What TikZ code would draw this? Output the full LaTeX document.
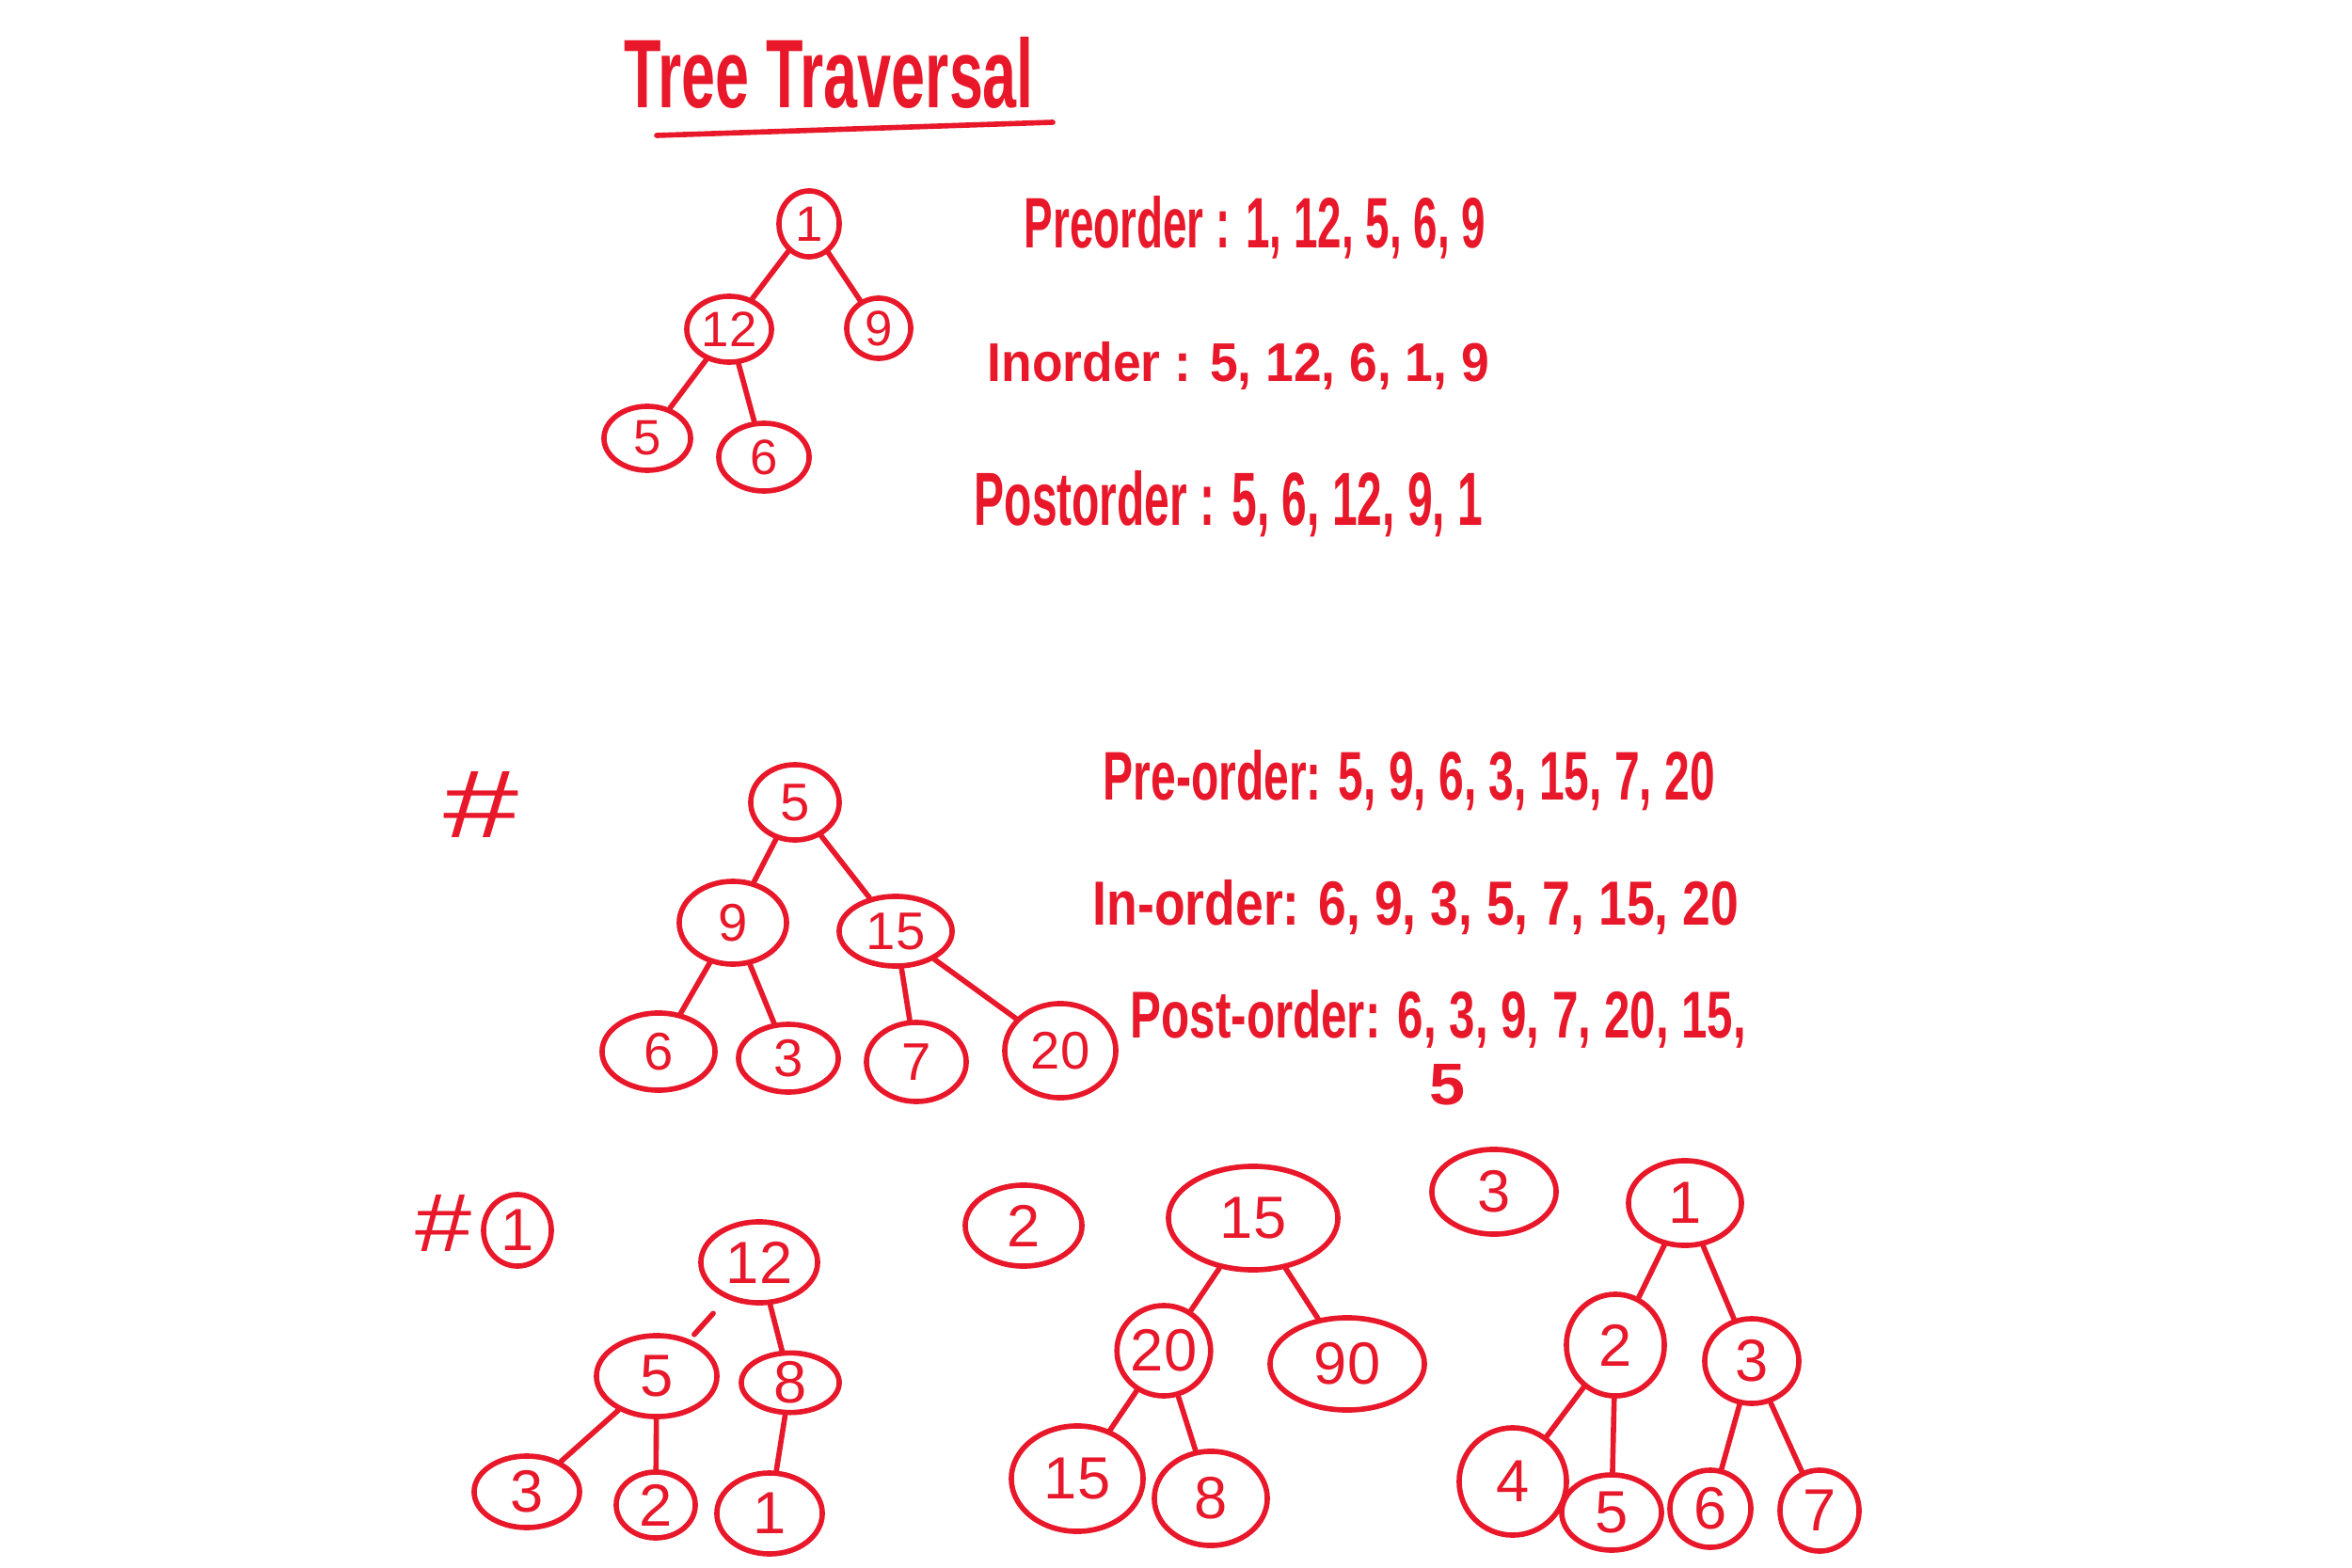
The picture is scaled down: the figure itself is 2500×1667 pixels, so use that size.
\documentclass[tikz,border=0pt]{standalone}
\usepackage{fontspec}
\setmainfont{Liberation Sans}
\usepackage{graphicx}
\usetikzlibrary{shapes.geometric}
\definecolor{ink}{RGB}{232,24,42}
\newcommand{\fitbox}[3]{\resizebox{#1cm}{#2cm}{#3}}
\begin{document}
\begin{tikzpicture}[x=0.01cm,y=-0.01cm,
  nd/.style n args={2}{draw=ink, ellipse, inner sep=0pt, line width=1.6pt,
     minimum width={#1*0.02cm}, minimum height={#2*0.02cm}, text=ink},
  fa/.style={font=\fontsize{15}{17}\selectfont},
  fb/.style={font=\fontsize{16}{18}\selectfont},
  fc/.style={font=\fontsize{18}{20}\selectfont},
  link/.style={draw=ink, line width=1.6pt, line cap=round},
  txt/.style={text=ink, inner sep=0pt, anchor=base west, font=\bfseries}]
\fill[white] (0,0) rectangle (2500,1667);
\useasboundingbox (0,0) rectangle (2500,1667);

% title
\node[txt] (title) at (663,115) {\fitbox{4.35}{0.75}{Tree Traversal}};
\coordinate (ul1) at (698,144);
\coordinate (ul2) at (1119,130);
\draw[link] (ul1) -- (ul2);

% tree 1
\node[nd={32}{35},fa] (a1) at (860,238) {1};
\node[nd={45}{35},fa] (a12) at (775,350) {12};
\node[nd={34}{32},fa] (a9) at (934,349) {9};
\node[nd={46}{34},fa] (a5) at (688,466) {5};
\node[nd={48}{36},fa] (a6) at (812,486) {6};
\draw[link] (a1) -- (a12);
\draw[link] (a1) -- (a9);
\draw[link] (a12) -- (a5);
\draw[link] (a12) -- (a6);

\node[txt] (pre1) at (1088,264) {\fitbox{4.9}{0.55}{Preorder : 1, 12, 5, 6, 9}};
\node[txt] (in1) at (1049,406) {\fitbox{5.33}{0.42}{Inorder : 5, 12, 6, 1, 9}};
\node[txt] (post1) at (1035,559) {\fitbox{5.4}{0.58}{Postorder : 5, 6, 12, 9, 1}};

% tree 2
\node[text=ink, inner sep=0pt] (hash1) at (512,855) {\fitbox{0.8}{0.7}{\#}};
\node[nd={47}{40},fb] (b5) at (845,853) {5};
\node[nd={57}{44},fb] (b9) at (779,981) {9};
\node[nd={60}{37},fb] (b15) at (952,990) {15};
\node[nd={60}{41},fb] (b6) at (700,1118) {6};
\node[nd={53}{36},fb] (b3) at (838,1125) {3};
\node[nd={53}{42},fb] (b7) at (974,1129) {7};
\node[nd={59}{50},fb] (b20) at (1127,1117) {20};
\draw[link] (b5) -- (b9);
\draw[link] (b5) -- (b15);
\draw[link] (b9) -- (b6);
\draw[link] (b9) -- (b3);
\draw[link] (b15) -- (b7);
\draw[link] (b15) -- (b20);

\node[txt] (pre2) at (1172,850) {\fitbox{6.5}{0.53}{Pre-order: 5, 9, 6, 3, 15, 7, 20}};
\node[txt] (in2) at (1161,983) {\fitbox{6.86}{0.48}{In-order: 6, 9, 3, 5, 7, 15, 20}};
\node[txt] (post2) at (1201,1103) {\fitbox{6.54}{0.51}{Post-order: 6, 3, 9, 7, 20, 15,}};
\node[text=ink, inner sep=0pt, font=\bfseries] (post2b) at (1538,1153) {\fitbox{0.38}{0.43}{5}};

% bottom: tree 1
\node[text=ink, inner sep=0pt] (hash2) at (472,1300) {\fitbox{0.6}{0.6}{\#}};
\node[nd={36}{38},fc] (l1) at (550,1308) {1};
\node[nd={62}{43},fc] (c12) at (807,1342) {12};
\node[nd={64}{43},fc] (c5) at (698,1463) {5};
\node[nd={52}{30},fc] (c8) at (840,1470) {8};
\node[nd={56}{38},fc] (c3) at (560,1586) {3};
\node[nd={42}{35},fc] (c2) at (697,1600) {2};
\node[nd={56}{43},fc] (c1) at (818,1609) {1};
\draw[link, shorten <=6pt, shorten >=2pt] (c12) -- (c5);
\draw[link] (c12) -- (c8);
\draw[link] (c5) -- (c3);
\draw[link] (c5) -- (c2);
\draw[link] (c8) -- (c1);

% bottom: tree 2
\node[nd={62}{43},fc] (l2) at (1088,1303) {2};
\node[nd={90}{55},fc] (d15) at (1332,1295) {15};
\node[nd={46}{48},fc] (d20) at (1237,1436) {20};
\node[nd={82}{49},fc] (d90) at (1432,1450) {90};
\node[nd={70}{56},fc] (d15b) at (1145,1572) {15};
\node[nd={60}{50},fc] (d8) at (1287,1593) {8};
\draw[link] (d15) -- (d20);
\draw[link] (d15) -- (d90);
\draw[link] (d20) -- (d15b);
\draw[link] (d20) -- (d8);

% bottom: tree 3
\node[nd={66}{45},fc] (l3) at (1588,1267) {3};
\node[nd={60}{45},fc] (e1) at (1791,1279) {1};
\node[nd={52}{54},fc] (e2) at (1717,1430) {2};
\node[nd={50}{45},fc] (e3) at (1862,1447) {3};
\node[nd={57}{57},fc] (e4) at (1608,1575) {4};
\node[nd={53}{40},fc] (e5) at (1713,1608) {5};
\node[nd={43}{41},fc] (e6) at (1818,1604) {6};
\node[nd={42}{43},fc] (e7) at (1934,1606) {7};
\draw[link] (e1) -- (e2);
\draw[link] (e1) -- (e3);
\draw[link] (e2) -- (e4);
\draw[link] (e2) -- (e5);
\draw[link] (e3) -- (e6);
\draw[link] (e3) -- (e7);
\end{tikzpicture}
\end{document}
